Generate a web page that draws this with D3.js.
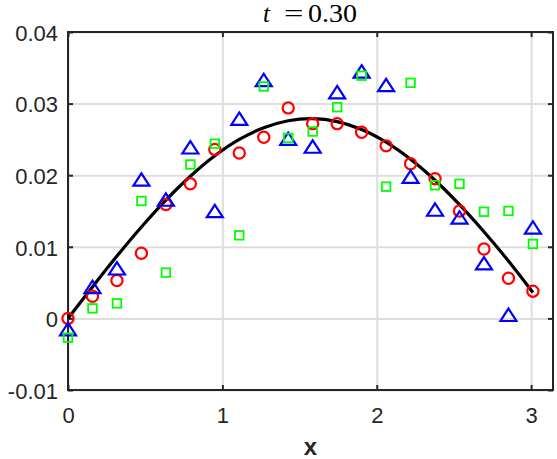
<!DOCTYPE html>
<html><head><meta charset="utf-8">
<script src="https://cdn.jsdelivr.net/npm/d3@7/dist/d3.min.js"></script>
<style>body{margin:0;background:#fff}svg{display:block}</style>
</head><body>
<svg id="c" width="557" height="459"></svg>
<script>
const xValues = [0,0.1585,0.317,0.4755,0.634,0.7925,0.951,1.1095,1.268,1.4265,1.585,1.7435,1.902,2.0605,2.219,2.3775,2.536,2.6945,2.853,3.0115];
const exactLine = [0,0.0044,0.0087,0.01277,0.01653,0.01986,0.02271,0.02499,0.02663,0.02761,0.0279,0.02748,0.02638,0.02461,0.02222,0.01929,0.01588,0.0121,0.00802,0.00362];
const circleSeries = [0.0000,0.0031,0.0053,0.0091,0.0159,0.0188,0.0236,0.0231,0.0253,0.0294,0.0272,0.0272,0.0260,0.0241,0.0216,0.0195,0.0150,0.0097,0.0056,0.0038];
const triangleSeries = [-0.0015,0.0044,0.0070,0.0194,0.0166,0.0239,0.0150,0.0279,0.0333,0.0251,0.0240,0.0316,0.0345,0.0326,0.0198,0.0152,0.0141,0.0077,0.0005,0.0127];
const squareSeries = [-0.0027,0.0014,0.0021,0.0164,0.0064,0.0215,0.0244,0.0116,0.0324,0.0252,0.0261,0.0295,0.0339,0.0184,0.0329,0.0186,0.0188,0.0149,0.0150,0.0104];
const xTicks = [0,1,2,3];
const yTicks = [-0.01,0,0.01,0.02,0.03,0.04];
const yTickLabels = ["-0.01","0","0.01","0.02","0.03","0.04"];
const titleValue = "0.30";
const xLabel = "x";

const L=68,R=553,T=32,B=390;
const svg=d3.select("#c");
const x=d3.scaleLinear().domain([0,Math.PI]).range([L,R]);
const y=d3.scaleLinear().domain([-0.01,0.04]).range([B,T]);
const axc="#262626";

// grid
svg.append("g").attr("transform",`translate(0,${B})`)
  .call(d3.axisBottom(x).tickValues(xTicks).tickSize(-(B-T)).tickFormat(""))
  .call(g=>{g.select(".domain").remove();g.selectAll("line").attr("stroke","#dedede").attr("stroke-width",2);});
svg.append("g").attr("transform",`translate(${L},0)`)
  .call(d3.axisLeft(y).tickValues(yTicks).tickSize(-(R-L)).tickFormat(""))
  .call(g=>{g.select(".domain").remove();g.selectAll("line").attr("stroke","#dedede").attr("stroke-width",2);});

// box
svg.append("rect").attr("x",L).attr("y",T).attr("width",R-L).attr("height",B-T)
  .attr("fill","none").attr("stroke",axc).attr("stroke-width",2);

// inward ticks
function ticks(gen,tr){
  svg.append("g").attr("transform",tr).call(gen)
   .call(g=>{g.select(".domain").remove();g.selectAll("line").attr("stroke",axc).attr("stroke-width",2);});
}
ticks(d3.axisBottom(x).tickValues(xTicks).tickSizeInner(-5).tickFormat(""),`translate(0,${B})`);
ticks(d3.axisTop(x).tickValues(xTicks).tickSizeInner(-5).tickFormat(""),`translate(0,${T})`);
ticks(d3.axisLeft(y).tickValues(yTicks).tickSizeInner(-5).tickFormat(""),`translate(${L},0)`);
ticks(d3.axisRight(y).tickValues(yTicks).tickSizeInner(-5).tickFormat(""),`translate(${R},0)`);

// tick labels
svg.append("g").attr("transform",`translate(0,${B})`)
  .call(d3.axisBottom(x).tickValues(xTicks).tickSize(0).tickPadding(17).tickFormat(d3.format("d")))
  .call(g=>{g.select(".domain").remove();g.selectAll("text").attr("font-family","'Liberation Sans',Arial,sans-serif").attr("font-size",22).attr("fill",axc);});
svg.append("g").attr("transform",`translate(${L},0)`)
  .call(d3.axisLeft(y).tickValues(yTicks).tickSize(0).tickPadding(10).tickFormat((d,i)=>yTickLabels[i]))
  .call(g=>{g.select(".domain").remove();g.selectAll("text").attr("font-family","'Liberation Sans',Arial,sans-serif").attr("font-size",22).attr("fill",axc).attr("dy","0.38em");});

// title
const tf="'Liberation Serif','Times New Roman',serif";
const tg=svg.append("g").attr("font-family",tf).attr("font-size",25).attr("fill","#000");
tg.append("text").attr("x",263).attr("y",22).attr("font-style","italic").text("t");
tg.append("text").attr("transform","translate(284,22) scale(1.38,1)").text("=");
tg.append("text").attr("x",308).attr("y",22).attr("textLength",49).attr("lengthAdjust","spacingAndGlyphs").text(titleValue);

// x label
svg.append("text").attr("x",(L+R)/2).attr("y",455).attr("text-anchor","middle")
  .attr("font-family","'Liberation Sans',Arial,sans-serif").attr("font-size",24).attr("font-weight","bold").attr("fill",axc).text(xLabel);

// exact line
svg.append("path").datum(xValues.map((v,i)=>[v,exactLine[i]]))
  .attr("d",d3.line().x(d=>x(d[0])).y(d=>y(d[1])).curve(d3.curveCatmullRom))
  .attr("fill","none").attr("stroke","#000").attr("stroke-width",3.2);

// circles
svg.append("g").selectAll("circle").data(xValues.map((v,i)=>[v,circleSeries[i]])).join("circle")
  .attr("cx",d=>x(d[0])).attr("cy",d=>y(d[1])).attr("r",5.6)
  .attr("fill","none").attr("stroke","#ff0000").attr("stroke-width",2.2);
// triangles
svg.append("g").selectAll("path").data(xValues.map((v,i)=>[v,triangleSeries[i]])).join("path")
  .attr("transform",d=>`translate(${x(d[0])},${y(d[1])})`)
  .attr("d","M0,-6.2L8,6.2L-8,6.2Z")
  .attr("fill","none").attr("stroke","#0000ff").attr("stroke-width",2.2).attr("stroke-linejoin","miter");
// squares
svg.append("g").selectAll("rect").data(xValues.map((v,i)=>[v,squareSeries[i]])).join("rect")
  .attr("x",d=>x(d[0])-4.3).attr("y",d=>y(d[1])-4.3).attr("width",8.6).attr("height",8.6)
  .attr("fill","none").attr("stroke","#00ff00").attr("stroke-width",1.8);
</script>
</body></html>
